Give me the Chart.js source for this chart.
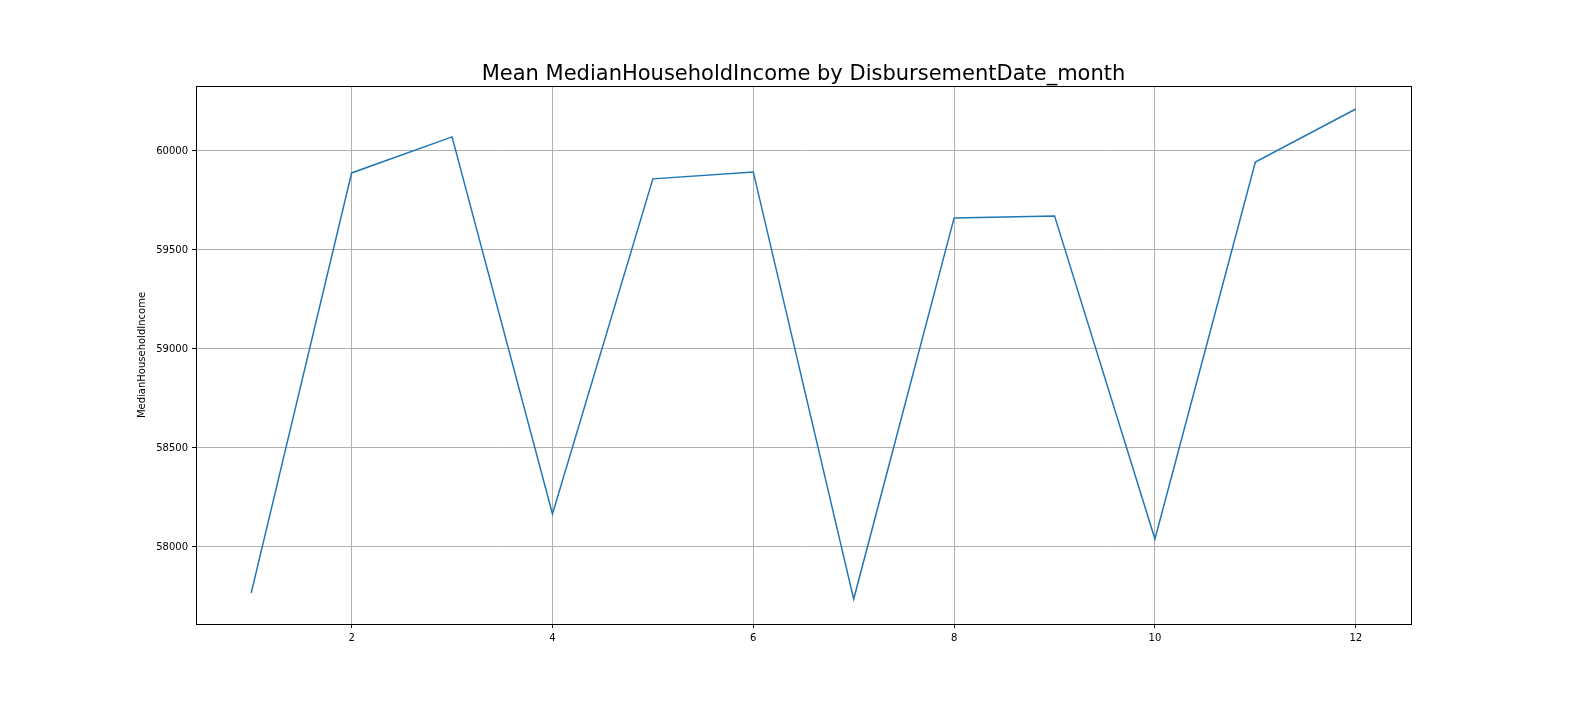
<!DOCTYPE html>
<html><head><script src="https://cdn.jsdelivr.net/npm/chart.js@4"></script>
<style>body{margin:0;background:#fff}</style></head><body>
<canvas id="c" width="1584" height="720"></canvas>
<script>
const months=[1,2,3,4,5,6,7,8,9,10,11,12];
const income=[57768,59889,60071,58167,59859,59894,57737,59662,59672,58040,59944,60212];
const xTicks=[2,4,6,8,10,12];
const yTicks=[58000,58500,59000,59500,60000];
const titleText='Mean MedianHouseholdIncome by DisbursementDate_month';
const extras={id:'extras',afterDraw(ch){const c=ch.ctx,a=ch.chartArea;c.save();c.strokeStyle='#000';c.lineWidth=1;c.strokeRect(a.left+0.5,a.top+0.5,a.right-a.left,a.bottom-a.top);
c.fillStyle='#000';c.font='21px "DejaVu Sans"';c.textAlign='center';c.textBaseline='alphabetic';c.fillText(titleText,(a.left+a.right)/2,80);c.restore();}};
new Chart(document.getElementById('c'),{type:'line',
data:{datasets:[{data:months.map((m,i)=>({x:m,y:income[i]})),borderColor:'#1f77b4',borderWidth:1.5,pointRadius:0,tension:0,fill:false}]},
options:{responsive:false,animation:false,layout:{padding:{left:136,right:173,top:86,bottom:56}},
plugins:{legend:{display:false},tooltip:{enabled:false}},
scales:{
x:{type:'linear',min:0.45,max:12.55,afterBuildTicks:s=>{s.ticks=xTicks.map(v=>({value:v}))},afterFit:s=>{s.height=40},
grid:{color:'#b0b0b0',tickColor:'#000',tickLength:4,drawOnChartArea:true},border:{display:false},
ticks:{color:'#000',font:{family:'DejaVu Sans',size:10},maxRotation:0,padding:4}},
y:{min:57611,max:60328,afterBuildTicks:s=>{s.ticks=yTicks.map(v=>({value:v}))},afterFit:s=>{s.width=60},
grid:{color:'#b0b0b0',tickColor:'#000',tickLength:4},border:{display:false},
title:{display:true,text:'MedianHouseholdIncome',color:'#000',font:{family:'DejaVu Sans',size:10},padding:0},
ticks:{color:'#000',font:{family:'DejaVu Sans',size:10},padding:4,callback:v=>String(v)}}}},
plugins:[extras]});
</script></body></html>
